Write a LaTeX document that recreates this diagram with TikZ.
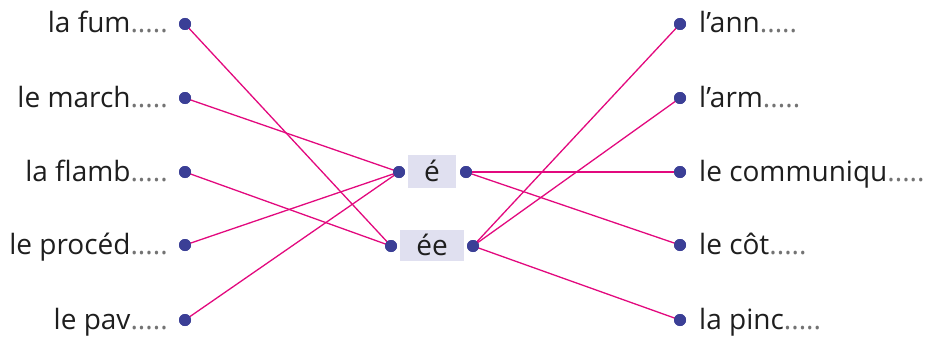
\documentclass[tikz,border=0pt]{standalone}
\usepackage{fontspec}
\setmainfont{Open Sans}
\definecolor{dotc}{HTML}{3B3F96}
\definecolor{linec}{HTML}{E2097E}
\definecolor{boxc}{HTML}{E0E0F0}
\definecolor{txt}{HTML}{1E1E1E}
\begin{document}
\begin{tikzpicture}[x=1pt,y=-1pt,
  dotn/.style={circle,fill=dotc,inner sep=0pt,minimum size=12pt},
  lab/.style={font=\fontsize{28}{32}\selectfont,text=txt,inner sep=0pt},
  conn/.style={draw=linec,line width=1.3pt},
  box/.style={fill=boxc,inner sep=0pt,font=\fontsize{28}{32}\selectfont,text=txt}]
\useasboundingbox (0,0) rectangle (939,337);
% middle boxes
\node[box,minimum width=48pt,minimum height=33pt] (be) at (432,171.5) {\raisebox{1pt}{é}};
\node[box,minimum width=64pt,minimum height=31pt] (bee) at (432,245) {\raisebox{1pt}{ée}};
\node[dotn] (el) at (399,172) {};
\node[dotn] (er) at (466,172) {};
\node[dotn] (eel) at (391,246) {};
\node[dotn] (eer) at (473,246) {};
% left
\foreach \n/\y in {l1/24,l2/98,l3/172,l4/245,l5/320}{\node[dotn] (\n) at (185,\y) {};}
\foreach \n/\y in {r1/24,r2/98,r3/172,r4/245,r5/320}{\node[dotn] (\n) at (680,\y) {};}
\node[lab,anchor=base east] (t1) at (168,33) {la fum{\color{black!55}.....}};
\node[lab,anchor=base east] (t2) at (168,107) {le march{\color{black!55}.....}};
\node[lab,anchor=base east] (t3) at (168,181) {la flamb{\color{black!55}.....}};
\node[lab,anchor=base east] (t4) at (168,254) {le procéd{\color{black!55}.....}};
\node[lab,anchor=base east] (t5) at (168,329) {le pav{\color{black!55}.....}};
\node[lab,anchor=base west] (s1) at (699,33) {l’ann{\color{black!55}.....}};
\node[lab,anchor=base west] (s2) at (699,107) {l’arm{\color{black!55}.....}};
\node[lab,anchor=base west] (s3) at (699,181) {le communiqu{\color{black!55}.....}};
\node[lab,anchor=base west] (s4) at (699,254) {le côt{\color{black!55}.....}};
\node[lab,anchor=base west] (s5) at (699,329) {la pinc{\color{black!55}.....}};
% connectors
\draw[conn] (l1.center) -- (eel.center);
\draw[conn] (l2.center) -- (el.center);
\draw[conn] (l3.center) -- (eel.center);
\draw[conn] (l4.center) -- (el.center);
\draw[conn] (l5.center) -- (el.center);
\draw[conn] (r1.center) -- (eer.center);
\draw[conn] (r2.center) -- (eer.center);
\draw[conn] (r3.center) -- (er.center);
\draw[conn] (r4.center) -- (er.center);
\draw[conn] (r5.center) -- (eer.center);
% redraw dots on top
\foreach \n in {l1,l2,l3,l4,l5,r1,r2,r3,r4,r5,el,er,eel,eer}{\fill[dotc] (\n) circle (6pt);}
\end{tikzpicture}
\end{document}
